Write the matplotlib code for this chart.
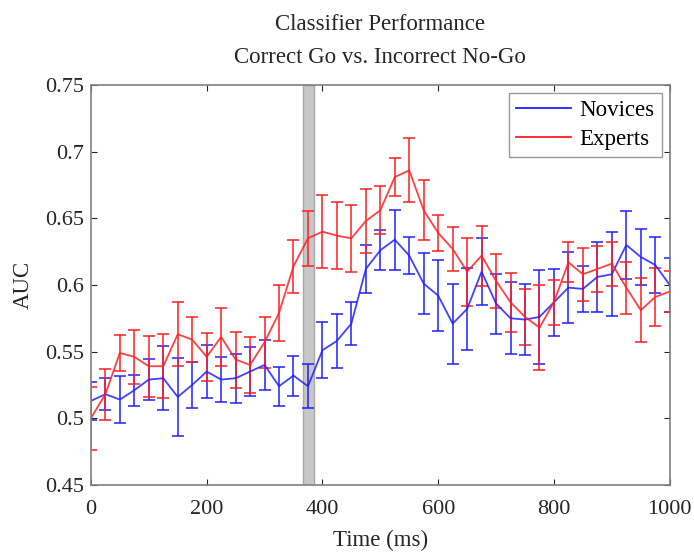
import matplotlib.pyplot as plt
import numpy as np

plt.rcParams['font.family'] = ['Liberation Serif', 'DejaVu Serif']

# time points (ms)
t = np.arange(0, 1001, 25)

novices = [0.513, 0.518, 0.514, 0.521, 0.529, 0.530, 0.516, 0.525, 0.535, 0.529,
           0.530, 0.535, 0.540, 0.524, 0.532, 0.524, 0.551, 0.558, 0.571, 0.612,
           0.626, 0.634, 0.622, 0.601, 0.592, 0.571, 0.582, 0.610, 0.586, 0.575,
           0.574, 0.576, 0.587, 0.598, 0.597, 0.606, 0.608, 0.630, 0.621, 0.615,
           0.600]
novices_err = [0.014, 0.012, 0.0175, 0.0115, 0.0155, 0.024, 0.029, 0.0175, 0.020, 0.017,
               0.0185, 0.0185, 0.0185, 0.0145, 0.015, 0.0165, 0.021, 0.020, 0.016, 0.018,
               0.015, 0.0225, 0.014, 0.023, 0.0265, 0.030, 0.031, 0.025, 0.0225, 0.027,
               0.0265, 0.035, 0.025, 0.0265, 0.0175, 0.0265, 0.0315, 0.0255, 0.021, 0.021,
               0.0205]

experts = [0.500, 0.518, 0.549, 0.546, 0.539, 0.539, 0.563, 0.559, 0.546, 0.561,
           0.544, 0.540, 0.557, 0.579, 0.614, 0.635, 0.640, 0.637, 0.635, 0.648,
           0.656, 0.681, 0.686, 0.656, 0.639, 0.627, 0.610, 0.622, 0.603, 0.587,
           0.576, 0.568, 0.587, 0.617, 0.608, 0.612, 0.616, 0.598, 0.581, 0.591,
           0.595]
experts_err = [0.0235, 0.019, 0.0135, 0.020, 0.023, 0.024, 0.024, 0.017, 0.018, 0.022,
               0.021, 0.021, 0.019, 0.021, 0.020, 0.0205, 0.0275, 0.025, 0.025, 0.024,
               0.018, 0.014, 0.024, 0.0225, 0.0135, 0.0165, 0.0255, 0.0225, 0.0205, 0.022,
               0.021, 0.032, 0.017, 0.015, 0.020, 0.0175, 0.0165, 0.0195, 0.024, 0.0215,
               0.0155]

# shaded window
band = (366, 385)

fig = plt.figure(figsize=(6.94, 5.56), dpi=100)
ax = fig.add_axes([0.131, 0.128, 0.834, 0.719])

ax.axvspan(band[0], band[1], facecolor='#c8c8c8', edgecolor='#a8a8a8', lw=1, zorder=0)

ax.errorbar(t, novices, yerr=novices_err, color='#2020ff', lw=1.3, capsize=4,
            elinewidth=1.3, capthick=1.3, alpha=0.85, label='Novices')
ax.errorbar(t, experts, yerr=experts_err, color='#ff2020', lw=1.3, capsize=4,
            elinewidth=1.3, capthick=1.3, alpha=0.85, label='Experts')

ax.set_xlim(0, 1000)
ax.set_ylim(0.45, 0.75)
ax.set_xticks([0, 200, 400, 600, 800, 1000])
ax.set_yticks([0.45, 0.5, 0.55, 0.6, 0.65, 0.7, 0.75])
ax.set_yticklabels(['0.45', '0.5', '0.55', '0.6', '0.65', '0.7', '0.75'])
ax.tick_params(direction='in', top=True, right=True, labelsize=16, colors='#262626',
               length=4)
ax.tick_params(axis='x', pad=11)
ax.tick_params(axis='y', pad=5)
for s in ax.spines.values():
    s.set_color('#808080')
    s.set_linewidth(1.2)

ax.set_xlabel('Time (ms)', fontsize=16.5, color='#262626', labelpad=8)
ax.set_ylabel('AUC', fontsize=16.5, color='#262626', labelpad=8)
ax.set_title('Classifier Performance\nCorrect Go vs. Incorrect No-Go', fontsize=16.5,
             color='#262626', linespacing=1.75, pad=16)

# legend with plain lines
handles = [plt.Line2D([], [], color='#2020ff', lw=1.3),
           plt.Line2D([], [], color='#ff2020', lw=1.3)]
leg = ax.legend(handles, ['Novices', 'Experts'], loc='upper right', fontsize=16.5,
                frameon=True, fancybox=False, edgecolor='#808080', handlelength=2.4,
                handletextpad=0.4, borderaxespad=0.35, borderpad=0.3, labelspacing=0.35)
leg.get_frame().set_linewidth(1.0)

fig.savefig('out.png', dpi=100)
